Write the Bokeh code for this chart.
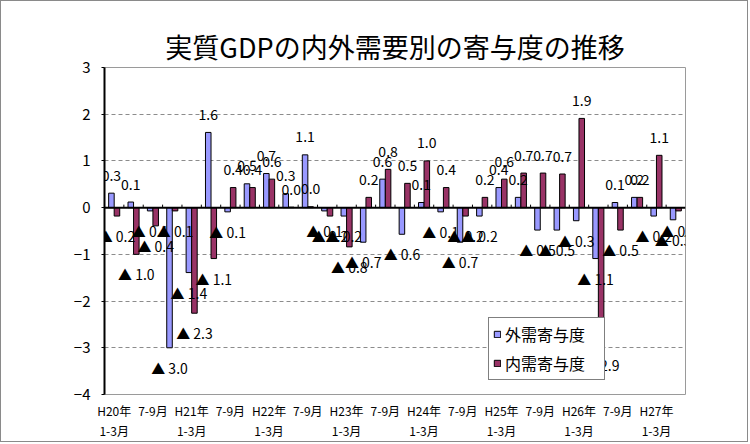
import numpy as np
from bokeh.plotting import figure
from bokeh.models import (ColumnDataSource, Range1d, FixedTicker, LinearAxis,
                          Span, Legend, LegendItem)
from bokeh.core.properties import value
from bokeh.embed import file_html
from bokeh.resources import INLINE

# ---------------- data ----------------
years = ["H20年", "H21年", "H22年", "H23年", "H24年", "H25年", "H26年", "H27年"]
quarter_names = ["1-3月", "4-6月", "7-9月", "10-12月"]
categories = [f"{y}{q}" for y in years for q in quarter_names][:30]

# 外需寄与度 (external demand contribution)
gaiju = [0.31, 0.12, -0.07, -3.00, -1.39, 1.61, -0.09, 0.51, 0.73, 0.30,
         1.13, -0.07, -0.18, -0.74, 0.61, -0.57, 0.11, -0.09, -0.74, -0.18,
         0.43, 0.22, -0.48, -0.48, -0.28, -1.09, 0.11, 0.22, -0.18, -0.26]
# 内需寄与度 (domestic demand contribution)
naiju = [-0.18, -1.00, -0.39, -0.07, -2.26, -1.09, 0.43, 0.43, 0.61, 0.01,
         0.02, -0.18, -0.84, 0.22, 0.82, 0.52, 1.00, 0.43, -0.18, 0.22,
         0.61, 0.74, 0.74, 0.72, 1.91, -2.93, -0.48, 0.22, 1.12, -0.07]

y_ticks = [-4, -3, -2, -1, 0, 1, 2, 3]
series_names = ["外需寄与度", "内需寄与度"]
title_text = "実質GDPの内外需要別の寄与度の推移"

# ---------------- styling ----------------
FONT = "Noto Sans CJK JP"
BLUE = "#9999FF"
MAROON = "#993366"

n = len(categories)
centers = np.arange(n) + 0.5
bar_w = 0.286
x_g = centers - bar_w / 2
x_n = centers + bar_w / 2

W, H = 748, 442          # + 1px CSS border on each side -> 750 x 444
MB_L, MB_R, MB_T, MB_B = 103, 64, 66, 49
frame_h = H - MB_T - MB_B
ymin, ymax = y_ticks[0], y_ticks[-1]
px_per_unit = frame_h / (ymax - ymin)

p = figure(width=W, height=H, x_range=Range1d(0, n), y_range=Range1d(ymin, ymax),
           output_backend="svg", toolbar_location=None, x_axis_location=None,
           min_border_left=MB_L, min_border_right=MB_R,
           min_border_top=MB_T, min_border_bottom=MB_B,
           title=title_text)
p.styles = {"border": "1px solid #8a8a8a"}

p.title.align = "center"
p.title.text_font = FONT
p.title.text_font_size = "27px"
p.title.text_font_style = "normal"
p.title.text_color = "black"
p.title.standoff = 4
p.title.offset = -13

p.outline_line_color = "#9a9a9a"
p.outline_line_width = 1
p.background_fill_color = "white"
p.border_fill_color = "white"

# y axis
yax = p.yaxis[0]
yax.ticker = FixedTicker(ticks=y_ticks)
yax.major_label_overrides = {t: (str(t) if t >= 0 else "\u2212" + str(abs(t))) for t in y_ticks}
yax.axis_line_color = "black"
yax.axis_line_width = 2
yax.major_tick_out = 3
yax.major_tick_in = 0
yax.major_tick_line_color = "black"
yax.minor_tick_line_color = None
yax.major_label_text_font = FONT
yax.major_label_text_font_size = "15px"
yax.major_label_text_color = "black"
yax.major_label_standoff = 11

p.xgrid.visible = False
p.ygrid.ticker = FixedTicker(ticks=y_ticks)
p.ygrid.grid_line_color = "#8c8c8c"
p.ygrid.grid_line_dash = "4 3"
p.ygrid.grid_line_width = 1

# category axes (two text rows)
row1_ticks = list(centers[0::2])
row1_labels = {}
for k, t in enumerate(row1_ticks):
    i = 2 * k
    row1_labels[float(t)] = years[i // 4] if i % 4 == 0 else quarter_names[2]
row2_ticks = list(centers[0::4])
row2_labels = {float(t): quarter_names[0] for t in row2_ticks}

for ticks, labels, standoff in [(row1_ticks, row1_labels, 7), (row2_ticks, row2_labels, 0)]:
    ax = LinearAxis(ticker=FixedTicker(ticks=[float(t) for t in ticks]),
                    major_label_overrides=labels)
    ax.axis_line_color = None
    ax.major_tick_line_color = None
    ax.minor_tick_line_color = None
    ax.major_tick_out = 0
    ax.major_tick_in = 0
    ax.major_label_standoff = standoff
    ax.major_label_text_font = FONT
    ax.major_label_text_font_size = "12px"
    ax.major_label_text_color = "black"
    p.add_layout(ax, "below")

# bars
r_g = p.vbar(x=x_g, top=gaiju, bottom=0, width=bar_w, fill_color=BLUE,
             line_color="black", line_width=1)
r_n = p.vbar(x=x_n, top=naiju, bottom=0, width=bar_w, fill_color=MAROON,
             line_color="black", line_width=1)

# data labels
def fmt(v):
    r = round(abs(v), 1)
    return f"{r:.1f}" if v >= 0 else f"▲ {r:.1f}"

lab_x = list(x_g) + list(x_n)
lab_y = list(gaiju) + list(naiju)
lab_t = [fmt(v) for v in lab_y]
lab_off = [-18 if v >= 0 else 20 for v in lab_y]
src = ColumnDataSource(dict(x=lab_x, y=lab_y, t=lab_t, yo=lab_off))
p.text(x="x", y="y", text="t", y_offset="yo", source=src,
       text_align="center", text_baseline="middle",
       text_font=value(FONT), text_font_size="14px", text_color="black")

# zero line with category ticks
p.add_layout(Span(location=0, dimension="width", line_color="black", line_width=2))
bounds = np.arange(1, n)
tick_len = 3 / px_per_unit
p.segment(x0=bounds, y0=0, x1=bounds, y1=tick_len, line_color="black", line_width=1)

# legend
legend = Legend(items=[LegendItem(label=series_names[0], renderers=[r_g]),
                       LegendItem(label=series_names[1], renderers=[r_n])],
                location=(384, 14))
legend.label_text_font = FONT
legend.label_text_font_size = "16px"
legend.label_text_color = "black"
legend.glyph_width = 8
legend.glyph_height = 8
legend.label_height = 20
legend.label_width = 95
legend.spacing = 5
legend.padding = 4
legend.margin = 0
legend.label_standoff = 4
legend.border_line_color = "black"
legend.border_line_width = 1
legend.background_fill_color = "white"
legend.background_fill_alpha = 1
p.add_layout(legend)

open("out.html", "w").write(file_html(p, INLINE))
